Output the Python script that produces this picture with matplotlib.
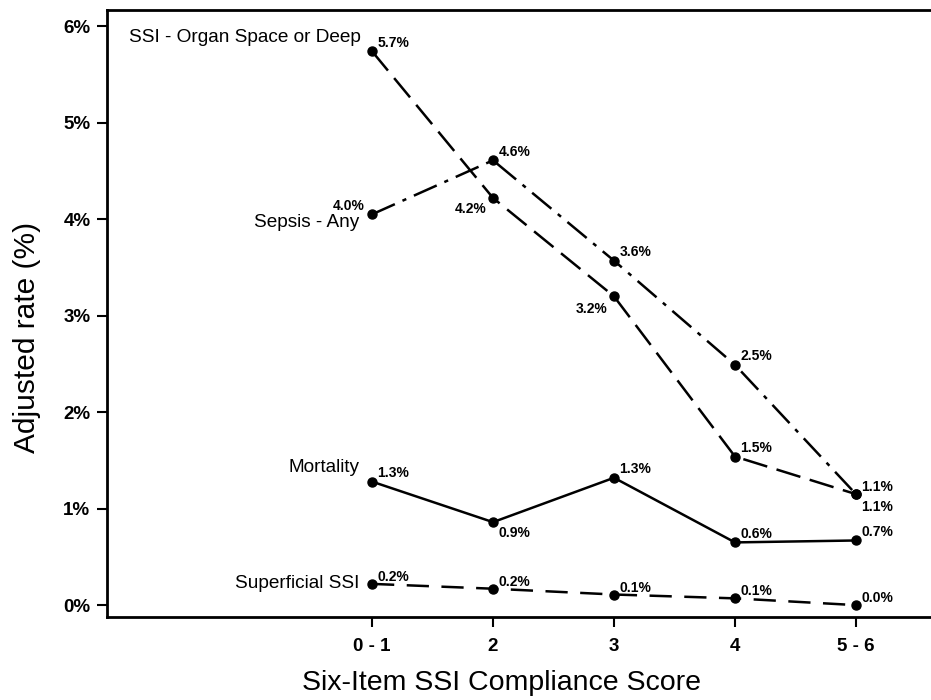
import matplotlib
matplotlib.use('Agg')
import matplotlib.pyplot as plt

plt.rcParams['font.family'] = ['Liberation Sans', 'DejaVu Sans']
plt.rcParams['lines.scale_dashes'] = False

scores = ['0 - 1', '2', '3', '4', '5 - 6']
x_pos = [1, 2, 3, 4, 5]

ssi_deep = [5.74, 4.22, 3.20, 1.54, 1.15]
sepsis = [4.05, 4.61, 3.57, 2.49, 1.15]
mortality = [1.28, 0.86, 1.32, 0.65, 0.67]
superficial = [0.22, 0.17, 0.11, 0.07, 0.00]

ssi_deep_labels = ['5.7%', '4.2%', '3.2%', '1.5%', '1.1%']
sepsis_labels = ['4.0%', '4.6%', '3.6%', '2.5%', '1.1%']
mortality_labels = ['1.3%', '0.9%', '1.3%', '0.6%', '0.7%']
superficial_labels = ['0.2%', '0.2%', '0.1%', '0.1%', '0.0%']

fig = plt.figure(figsize=(9.31, 7.0), dpi=100)
ax = fig.add_axes([0.115, 0.119, 0.885, 0.867])

line_kw = dict(color='black', linewidth=1.8, marker='o', markersize=6.5)
ax.plot(x_pos, ssi_deep, dashes=(18, 7), **line_kw)
ax.plot(x_pos, sepsis, dashes=(18, 6, 3, 6), **line_kw)
ax.plot(x_pos, mortality, linestyle='-', **line_kw)
ax.plot(x_pos, superficial, dashes=(16, 9), **line_kw)


def label_points(values, labels, offsets):
    for x, y, txt, (dx, dy) in zip(x_pos, values, labels, offsets):
        ha = 'left' if dx >= 0 else 'right'
        va = 'bottom' if dy >= 0 else 'top'
        ax.annotate(txt, (x, y), xytext=(dx, dy), textcoords='offset points',
                    ha=ha, va=va, fontsize=10, fontweight='bold')


label_points(ssi_deep, ssi_deep_labels,
             [(4, 1), (-5, -3), (-5, -4), (4, 1), (4, -4)])
label_points(sepsis, sepsis_labels,
             [(-5, 1), (4, 1), (4, 1), (4, 1), (4, 0)])
label_points(mortality, mortality_labels,
             [(4, 1), (4, -3), (4, 1), (4, 1), (4, 1)])
label_points(superficial, superficial_labels,
             [(4, 0), (4, 0), (4, 0), (4, 0), (4, 0)])

# series names, right-aligned just left of the first point
name_kw = dict(textcoords='offset points', ha='right', va='center', fontsize=13.7)
ax.annotate('SSI - Organ Space or Deep', (x_pos[0], ssi_deep[0]), xytext=(-8, 10), **name_kw)
ax.annotate('Sepsis - Any', (x_pos[0], sepsis[0]), xytext=(-9, -6), **name_kw)
ax.annotate('Mortality', (x_pos[0], mortality[0]), xytext=(-9, 10), **name_kw)
ax.annotate('Superficial SSI', (x_pos[0], superficial[0]), xytext=(-9, 0), **name_kw)

ax.set_xlim(-1.19, 5.62)
ax.set_ylim(-0.12, 6.17)
ax.set_xticks(x_pos)
ax.set_xticklabels(scores)
ax.set_yticks(range(0, 7))
ax.set_yticklabels([f'{v}%' for v in range(0, 7)])
ax.tick_params(direction='out', length=7, width=1.5, labelsize=13.5, pad=5)
ax.tick_params(axis='x', pad=8)
for lab in ax.get_xticklabels() + ax.get_yticklabels():
    lab.set_fontweight('bold')
for side in ['left', 'top', 'bottom']:
    ax.spines[side].set_linewidth(2)
ax.spines['right'].set_visible(False)

ax.set_xlabel('Six-Item SSI Compliance Score', fontsize=20.5)
ax.set_ylabel('Adjusted rate (%)', fontsize=21.5)
ax.xaxis.set_label_coords(0.479, -0.088)
ax.yaxis.set_label_coords(-0.08, 0.46)

plt.savefig('out.png', dpi=100)
